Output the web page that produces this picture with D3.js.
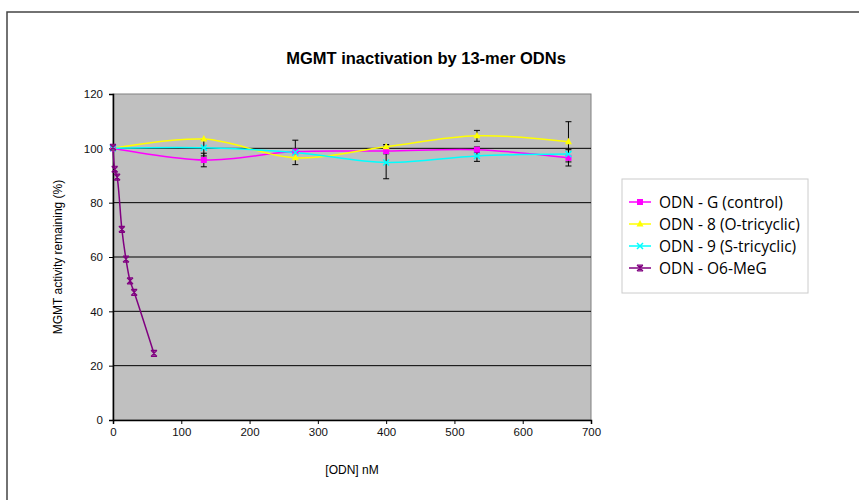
<!DOCTYPE html>
<html>
<head>
<meta charset="utf-8">
<script src="https://cdn.jsdelivr.net/npm/d3@7"></script>
<style>
  body { margin: 0; background: #fff; }
  svg { display: block; font-family: "Liberation Sans", Arial, sans-serif; }
</style>
</head>
<body>
<svg id="chart" width="859" height="500"></svg>
<script>

// concentrations (nM)
var concMain = [0, 133, 267, 400, 533, 667]
var concMeG = [0, 2.5, 6, 13, 19, 25, 31, 60]

// activity remaining (%)
var odnG = [100, 95.7, 98.8, 99, 99.5, 96.5]
var odn8 = [100, 103.4, 96.5, 100.6, 104.6, 102.4]
var odn9 = [100, 100.2, 98.5, 94.8, 97.2, 97.9]
var odnMeG = [100.4, 92.3, 89.4, 70.2, 59.2, 51.2, 47, 24.5]

// error (+/-)
var errG = [0, 2.5, 0, 1, 1, 3]
var err8 = [0, 0, 0, 0.8, 2, 7.4]
var err9 = [0, 3, 4.5, 6, 2, 0]

var seriesNames = ["ODN - G (control)", "ODN - 8 (O-tricyclic)", "ODN - 9 (S-tricyclic)", "ODN - O6-MeG"]
var seriesColors = ["#ff00ff", "#ffff00", "#00ffff", "#800080"]
var markerTypes = ["square", "triangle", "x", "star"]

var xTicks = [0, 100, 200, 300, 400, 500, 600, 700]
var yTicks = [0, 20, 40, 60, 80, 100, 120]

var series = [
  { name: seriesNames[0], x: concMain, y: odnG, err: errG },
  { name: seriesNames[1], x: concMain, y: odn8, err: err8 },
  { name: seriesNames[2], x: concMain, y: odn9, err: err9 },
  { name: seriesNames[3], x: concMeG, y: odnMeG, err: null }
]
series.forEach((s, i) => { s.color = seriesColors[i]; s.marker = markerTypes[i] })

var svg = d3.select("#chart")

// outer frame
svg.append("rect")
  .attr("x", 7).attr("y", 12)
  .attr("width", 880).attr("height", 520)
  .attr("fill", "none")
  .attr("stroke", "#444")
  .attr("stroke-width", 1.5)

var plotLeft = 113, plotRight = 591, plotTop = 94, plotBottom = 420

var x = d3.scaleLinear().domain([0, 700]).range([plotLeft, plotRight])
var y = d3.scaleLinear().domain([0, 120]).range([plotBottom, plotTop])

// plot background
svg.append("rect")
  .attr("x", plotLeft).attr("y", plotTop)
  .attr("width", plotRight - plotLeft).attr("height", plotBottom - plotTop)
  .attr("fill", "#c0c0c0")
  .attr("stroke", "#808080")
  .attr("stroke-width", 1)

// gridlines
svg.append("g")
  .selectAll("line")
  .data(yTicks.filter(t => t > 0 && t < 120))
  .join("line")
  .attr("x1", plotLeft).attr("x2", plotRight)
  .attr("y1", d => y(d)).attr("y2", d => y(d))
  .attr("stroke", "#000")
  .attr("stroke-width", 1)

// axes
var xAxis = svg.append("g")
  .attr("transform", `translate(0,${plotBottom})`)
  .call(d3.axisBottom(x).tickValues(xTicks).tickSize(4).tickPadding(4))
var yAxis = svg.append("g")
  .attr("transform", `translate(${plotLeft},0)`)
  .call(d3.axisLeft(y).tickValues(yTicks).tickSize(4).tickPadding(6))

;[xAxis, yAxis].forEach(a => {
  a.select(".domain").attr("stroke", "#000").attr("stroke-width", 1.5)
  a.selectAll(".tick line").attr("stroke", "#000")
  a.selectAll(".tick text").attr("font-size", 11.5).attr("fill", "#111")
    .attr("font-family", "Liberation Sans, Arial, sans-serif")
})

// error bars
var errBars = svg.append("g")
series.filter(s => s.err).forEach(s => {
  s.x.forEach((cx, i) => {
    var e = s.err[i]
    if (!e) return
    var px = x(cx)
    errBars.append("line")
      .attr("x1", px).attr("x2", px)
      .attr("y1", y(s.y[i] - e)).attr("y2", y(s.y[i] + e))
      .attr("stroke", "#000").attr("stroke-width", 1)
    ;[s.y[i] - e, s.y[i] + e].forEach(v => {
      errBars.append("line")
        .attr("x1", px - 3).attr("x2", px + 3)
        .attr("y1", y(v)).attr("y2", y(v))
        .attr("stroke", "#000").attr("stroke-width", 1)
    })
  })
})

// smooth lines
var line = d3.line()
  .x(d => x(d[0]))
  .y(d => y(d[1]))
  .curve(d3.curveCatmullRom.alpha(0.5))

series.forEach(s => {
  svg.append("path")
    .datum(s.x.map((v, i) => [v, s.y[i]]))
    .attr("d", line)
    .attr("fill", "none")
    .attr("stroke", s.color)
    .attr("stroke-width", 1.5)
})

// markers
function drawMarker(g, type, px, py, color) {
  if (type == "square") {
    g.append("rect").attr("x", px - 3).attr("y", py - 3).attr("width", 6).attr("height", 6)
      .attr("fill", color)
  } else if (type == "triangle") {
    g.append("path").attr("d", `M${px},${py - 4}L${px + 3.5},${py + 2.5}L${px - 3.5},${py + 2.5}Z`)
      .attr("fill", color)
  } else if (type == "x") {
    g.append("path").attr("d", `M${px - 3},${py - 3}L${px + 3},${py + 3}M${px + 3},${py - 3}L${px - 3},${py + 3}`)
      .attr("stroke", color).attr("stroke-width", 1.5)
  } else {
    g.append("path").attr("d", `M${px - 3},${py - 3}L${px + 3},${py + 3}M${px + 3},${py - 3}L${px - 3},${py + 3}M${px - 3},${py - 3}L${px + 3},${py - 3}M${px - 3},${py + 3}L${px + 3},${py + 3}M${px},${py - 3}L${px},${py + 3}`)
      .attr("stroke", color).attr("stroke-width", 1.2)
  }
}

var markG = svg.append("g")
series.forEach(s => {
  s.x.forEach((cx, i) => drawMarker(markG, s.marker, x(cx), y(s.y[i]), s.color))
})

// title and axis labels
svg.append("text")
  .attr("x", 426).attr("y", 64)
  .attr("text-anchor", "middle")
  .attr("font-size", 16.5).attr("font-weight", "bold")
  .text("MGMT inactivation by 13-mer ODNs")

svg.append("text")
  .attr("x", 352).attr("y", 474)
  .attr("text-anchor", "middle")
  .attr("font-size", 12)
  .text("[ODN] nM")

svg.append("text")
  .attr("transform", "translate(62,257) rotate(-90)")
  .attr("text-anchor", "middle")
  .attr("font-size", 12)
  .text("MGMT activity remaining (%)")

// legend
var legend = svg.append("g")
legend.append("rect")
  .attr("x", 622).attr("y", 179)
  .attr("width", 186).attr("height", 114)
  .attr("fill", "#fff")
  .attr("stroke", "#ccc")

series.forEach((s, i) => {
  var ly = 202 + i * 22
  legend.append("line")
    .attr("x1", 629).attr("x2", 651)
    .attr("y1", ly).attr("y2", ly)
    .attr("stroke", s.color).attr("stroke-width", 1.5)
  drawMarker(legend, s.marker, 640, ly, s.color)
  legend.append("text")
    .attr("x", 659).attr("y", ly + 6)
    .attr("font-size", 15.5)
    .attr("font-family", "'Open Sans', sans-serif")
    .text(s.name)
})

</script>
</body>
</html>
